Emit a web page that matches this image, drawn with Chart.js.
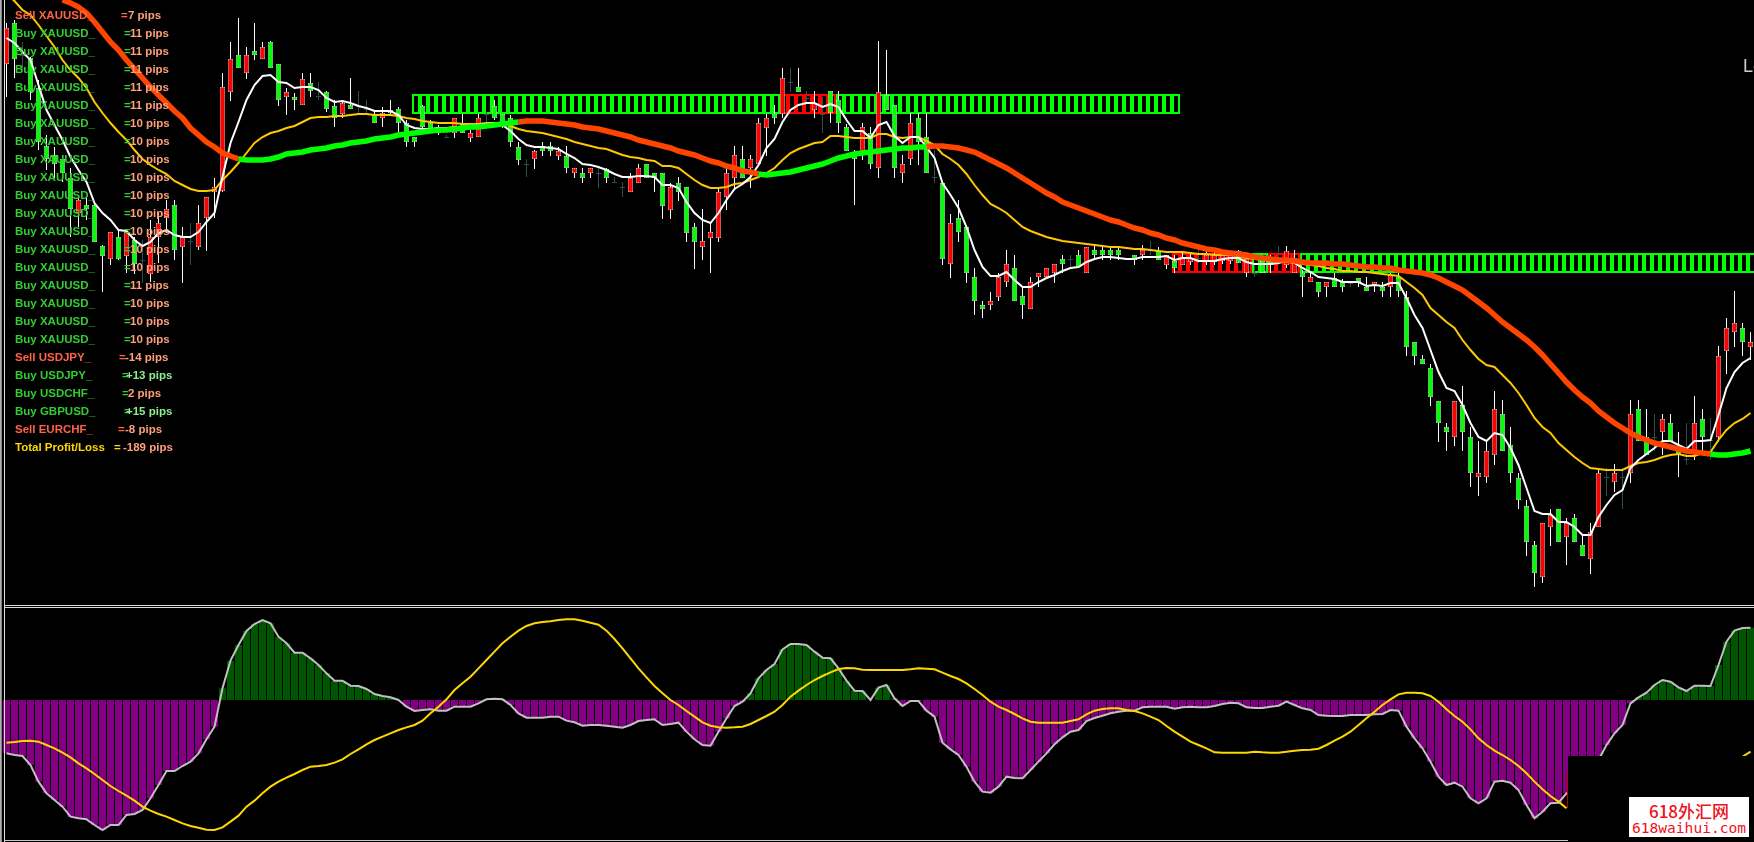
<!DOCTYPE html>
<html>
<head>
<meta charset="utf-8">
<script src="https://cdn.jsdelivr.net/npm/chart.js@4"></script>
<style>
html,body{margin:0;padding:0;background:#000;width:1754px;height:842px;overflow:hidden}
#wrap{position:absolute;left:0;top:0;width:1754px;height:842px;overflow:hidden;background:#000}
canvas{position:absolute;left:0;top:0}
.t{position:absolute;font:bold 11.5px "Liberation Sans",Arial,sans-serif;line-height:14px;white-space:pre}
.b{position:absolute}
</style>
</head>
<body>
<div id="wrap"><canvas id="c" width="1755" height="842"></canvas></div>
<script>
// ---- price pane: levels counted downward from the top of the pane ----
const opens = [64,23,55,58,88,146,155,159,178,213,
205,205,246,259,237,256,240,260,274,237,
218,205,247,241,247,218,192,191,92,55,
73,51,59,42,64,97,97,105,83,96,
92,106,114,105,106,109,115,118,110,109,
123,137,106,123,127,137,133,123,138,137,
114,106,114,118,147,164,159,146,146,156,
156,173,173,173,173,169,182,187,192,183,
164,173,173,210,183,187,227,247,238,238,
197,178,159,168,164,128,114,114,82,87,
98,110,114,91,100,127,155,152,133,168,
95,105,173,159,118,137,177,183,264,218,
227,277,305,305,297,282,268,296,309,277,
277,273,259,259,255,273,250,250,250,250,
259,255,255,250,251,265,261,265,262,258,
262,262,261,261,251,273,273,260,260,260,
265,273,273,282,282,287,278,282,283,278,
287,286,287,287,277,297,342,359,368,401,
427,437,405,437,477,477,455,414,445,478,
506,545,577,527,509,537,518,545,559,527,
477,482,477,473,409,437,437,432,423,451,
459,451,419,440,437,351,332,328,347];
const closes = [28,59,55,92,142,159,164,173,209,200,
209,242,256,232,259,232,264,260,237,223,
209,250,237,241,223,197,187,87,59,68,
55,55,47,68,100,92,100,79,91,96,
109,118,103,109,106,109,123,113,113,123,
142,142,127,129,133,137,118,133,133,118,
114,118,124,142,160,164,151,151,151,151,
168,168,178,168,173,178,182,187,178,168,
178,178,206,187,192,233,242,241,232,192,
173,155,178,159,123,118,118,78,82,92,
98,103,114,113,123,151,159,127,164,92,
110,168,164,123,142,173,177,259,223,232,
273,301,309,301,277,264,301,305,282,273,
268,264,264,259,267,247,255,255,255,255,
259,260,250,250,260,255,268,257,258,258,
255,255,255,255,263,259,273,273,265,260,
251,258,277,277,292,282,287,287,283,282,
291,282,291,275,291,347,356,364,397,423,
432,401,432,473,473,451,409,451,473,500,
542,573,523,515,542,523,542,556,532,473,
477,473,477,414,441,455,437,419,441,455,
459,423,437,440,356,328,323,342,342];
const highs = [23,20,42,57,80,135,147,157,168,197,
197,203,245,232,230,230,237,240,220,213,
200,200,227,223,205,197,178,73,42,18,
47,23,42,41,64,88,93,73,73,82,
91,100,100,78,91,100,110,107,100,107,
120,137,105,120,125,135,118,114,130,114,
112,100,114,115,142,159,150,142,142,147,
146,168,168,168,168,168,177,182,173,164,
164,173,173,183,177,187,223,209,223,187,
168,146,146,155,118,114,105,68,68,68,
91,91,97,91,91,124,150,123,127,41,
50,105,155,113,113,113,150,183,214,200,
227,268,301,292,273,250,255,287,277,273,
268,264,255,255,250,247,246,246,246,246,
258,255,245,241,247,255,255,253,253,250,
250,250,252,252,250,253,263,255,255,246,
246,250,270,273,282,282,273,279,282,278,
277,282,282,273,273,291,342,355,364,401,
423,401,386,427,441,441,391,400,427,473,
500,541,523,509,509,518,514,535,523,470,
468,464,468,400,400,409,414,414,414,432,
423,396,409,418,346,318,291,323,332];
const lows = [97,78,70,100,150,170,178,182,237,227,
220,242,292,265,260,273,274,283,282,263,
233,260,283,265,250,251,218,192,101,68,
79,60,59,68,106,115,110,105,97,100,
112,127,118,109,113,115,123,127,115,133,
147,147,130,130,135,138,138,133,142,137,
123,120,128,147,165,177,169,156,156,160,
173,178,183,178,188,183,183,197,192,183,
178,192,219,219,201,242,269,260,273,242,
210,190,178,188,164,156,124,118,92,92,
103,118,133,123,133,151,205,160,169,178,
110,178,183,165,165,173,183,265,278,242,
283,315,318,310,301,287,301,319,309,287,
277,283,273,268,267,273,260,260,260,260,
260,265,260,255,260,269,273,265,265,263,
265,265,264,264,263,277,277,273,273,265,
268,273,297,282,297,297,287,292,287,287,
291,292,297,297,297,356,365,364,406,442,
451,446,451,487,496,483,465,451,483,509,
556,587,583,546,542,565,542,556,574,527,
496,492,509,483,441,455,451,455,441,477,
465,460,455,460,442,374,347,356,360];
const fastMA = [38,43,52,60,85,110,125,140,157,170,182,203,213,220,230,231,240,246,242,233,230,235,237,237,232,222,213,177,143,122,100,85,76,75,82,83,88,87,87,90,98,102,101,103,106,108,111,111,111,115,125,128,
129,129,128,128,127,127,126,125,124,123,125,131,139,145,147,147,148,149,154,158,164,165,167,170,174,177,177,176,176,177,185,185,188,202,213,220,223,213,200,189,184,177,165,148,139,122,110,105,103,103,107,104,107,
120,131,131,138,125,122,136,143,137,137,147,158,183,195,208,227,250,267,276,276,272,280,287,287,282,278,275,271,268,267,262,259,257,257,258,259,259,257,257,257,256,260,
258,258,261,261,261,259,258,258,262,264,264,264,263,261,263,268,272,277,278,279,282,282,282,286,285,286,283,283,
298,315,328,350,372,388,391,405,423,437,441,433,435,448,465,488,511,514,514,522,522,527,535,535,517,505,495,490,468,460,454,448,441,441,445,449,441,441,440,415,388,372,363,358];
const slowMA = [-6,1,10,15,25,36,47,60,70,78,88,102,113,123,132,140,150,159,165,170,174,181,185,189,191,191,190,180,172,163,153,143,137,133,131,128,126,122,118,117,117,116,116,115,114,114,115,115,115,116,118,119,
121,122,123,123,123,124,124,124,123,123,124,126,129,131,132,133,135,137,139,142,144,146,148,149,152,155,157,158,160,161,166,166,168,174,180,185,188,188,187,184,183,180,177,173,168,160,153,149,146,143,142,136,136,
137,138,138,138,134,134,137,138,137,137,141,145,154,159,165,174,185,195,204,208,213,220,227,231,234,237,239,241,242,243,244,245,246,247,247,248,249,249,250,251,252,252,
252,253,254,254,255,255,255,256,258,259,260,261,261,262,263,264,265,266,268,269,271,271,272,272,273,274,275,276,
282,288,295,308,315,322,328,340,350,359,365,367,375,383,393,405,418,427,433,443,450,457,463,468,469,470,470,470,466,463,462,460,457,455,454,456,456,453,452,440,430,423,419,413];
const trendMA = [null,null,null,null,null,null,null,0,3,7,13,22,32,42,50,60,69,78,87,95,103,111,118,128,135,142,147,153,156,159,160,160,160,159,157,154,153,152,150,149,148,146,145,143,142,141,139,138,137,135,134,133,
132,131,130,130,129,128,127,127,126,125,124,123,122,121,121,121,122,123,124,125,127,128,129,131,133,135,137,140,142,144,146,148,151,153,155,158,161,163,166,168,171,172,174,175,174,173,172,170,168,166,164,161,158,
156,154,153,152,151,150,149,148,148,147,147,146,146,147,148,150,152,156,160,164,168,173,178,183,188,193,197,202,205,208,211,214,217,220,222,225,228,230,233,235,238,240,
243,245,247,249,250,252,253,254,255,257,258,259,260,260,261,262,263,263,263,264,264,265,266,267,267,268,268,270,
271,272,273,275,278,282,286,290,296,302,308,315,322,328,334,340,347,355,364,373,382,390,397,403,411,417,423,428,433,437,440,443,445,447,449,451,452,453,454,455,455,454,453,451];
const trendFlips = [29,64,94,115,213];
// ladders of cells: [first cell, last cell]
const greenLadderUpper = [0,95];
const redLadderUpper = [46,52];
const greenLadderLower = [95,168];
const redLadderLower = [[95,104],[107,110]];
const upperBand = [94,114];
const lowerBand = [253,273];
// ---- oscillator pane ----
const oscillator = [-160,-165,-168,-195,-245,-280,-300,-320,-350,-355,-358,-375,-390,-375,-375,-345,-342,-330,-295,-255,-213,-213,-198,-185,-160,-118,-80,35,118,165,207,228,240,230,190,170,142,142,125,105,80,58,58,43,42,33,18,12,8,0,
-20,-33,-30,-28,-32,-32,-20,-20,-20,-10,2,4,2,-15,-40,-53,-53,-53,-50,-50,-62,-67,-77,-75,-75,-77,-80,-83,-75,-63,-60,-58,-75,-72,-68,-95,-118,-135,-137,-95,-55,-18,-5,20,65,90,108,152,168,168,
165,145,127,125,95,58,28,27,0,37,45,5,-18,-3,-3,-32,-50,-128,-148,-165,-200,-245,-275,-278,-260,-230,-234,-235,-210,-185,-160,-133,-112,-95,-90,-63,-54,-47,-40,-35,-32,-32,-22,-20,-20,-20,-26,-22,-20,-22,
-22,-18,-12,-8,-10,-22,-24,-24,-20,-17,-5,-15,-25,-30,-45,-47,-48,-48,-45,-45,-45,-43,-42,-30,-32,-80,-115,-145,-185,-230,-255,-248,-260,-295,-310,-295,-245,-242,-248,-270,-315,-355,-335,-310,-308,-280,-270,-255,-225,-180,
-135,-100,-75,-10,8,22,45,60,55,38,27,43,43,42,105,175,208,216,217];
const signal = [-128,-126,-123,-122,-125,-135,-145,-158,-172,-190,-205,-222,-240,-258,-273,-287,-302,-320,-332,-342,-350,-360,-370,-378,-383,-389,-390,-382,-365,-347,-320,-302,-280,-260,-245,-233,-222,-210,-200,-198,-195,-188,-178,-162,-148,-133,-120,-110,-100,-90,-82,-75,-62,-40,-20,2,30,50,70,95,120,145,170,190,208,222,230,234,236,240,242,242,238,232,226,
208,183,155,125,95,68,42,20,0,-15,-33,-50,-67,-77,-82,-83,-82,-80,-72,-60,-48,-35,-15,10,28,45,60,72,83,93,96,95,91,90,90,90,90,90,92,95,94,92,82,72,63,50,33,15,-5,-20,-30,-42,-55,-65,-68,-68,-68,-68,-63,-58,-43,-32,-27,-25,-25,-30,-33,-40,-50,-60,-78,-95,-110,-125,-135,
-145,-157,-158,-158,-158,-158,-155,-157,-158,-158,-155,-152,-150,-149,-146,-135,-122,-110,-95,-75,-55,-35,-15,2,17,22,22,20,12,-5,-28,-48,-65,-88,-115,-135,-152,-165,-180,-198,-220,-245,-268,-288,-305,-325,
null,null,null,null,null,null,null,null,null,null,null,null,null,null,null,null,null,null,null,null,-195,-170,-155];
// ---- text ----
const rowNames = ["Sell XAUUSD_","Buy XAUUSD_","Buy XAUUSD_","Buy XAUUSD_","Buy XAUUSD_","Buy XAUUSD_","Buy XAUUSD_","Buy XAUUSD_","Buy XAUUSD_","Buy XAUUSD_","Buy XAUUSD_","Buy XAUUSD_","Buy XAUUSD_","Buy XAUUSD_","Buy XAUUSD_","Buy XAUUSD_","Buy XAUUSD_","Buy XAUUSD_","Buy XAUUSD_","Sell USDJPY_","Buy USDJPY_","Buy USDCHF_","Buy GBPUSD_","Sell EURCHF_","Total Profit/Loss"];
const rowValues = ["7 pips","11 pips","11 pips","11 pips","11 pips","11 pips","10 pips","10 pips","10 pips","10 pips","10 pips","10 pips","10 pips","10 pips","10 pips","11 pips","10 pips","10 pips","10 pips","-14 pips","+13 pips","2 pips","+15 pips","-8 pips","-189 pips"];
const eqLeft = [121,124,124,124,124,124,124,124,124,124,124,124,124,124,124,124,124,124,124,119,122,122,124,118,114];
const valLeft = [128,130,130,130,130,130,130,130,130,130,130,130,130,130,130,130,130,130,130,125,126,128,126,125,123];
const categories = opens.map((_, i) => String(i + 1));

const RED = '#ff0000', GREEN = '#00ff00', DOJI = '#2f4f4f';
const isDoji = i => opens[i] === closes[i];
const bodyColor = i => isDoji(i) ? DOJI : (closes[i] < opens[i] ? RED : GREEN);
const range = (a, b) => { const r = []; for (let k = a; k <= b; k++) r.push(k); return r; };
const cells = (span, band) => range(span[0], span[1]).map(k => ({ x: k, y: band }));
const ladder = (data, color, order) => ({
  type: 'bar', data, xAxisID: 'xCells', yAxisID: 'price', grouped: false, barThickness: 8,
  backgroundColor: 'rgba(0,0,0,0)', borderColor: color, borderWidth: 2, borderSkipped: false, inflateAmount: 0, order
});
const trendColor = ctx => {
  let n = 0; for (const f of trendFlips) if (ctx.p0DataIndex >= f) n++;
  return n % 2 ? GREEN : '#ff4500';
};

new Chart(document.getElementById('c'), {
  data: {
    labels: categories,
    datasets: [
      ladder(cells(greenLadderUpper, upperBand), GREEN, 21),
      ladder(cells(greenLadderLower, lowerBand), GREEN, 21),
      ladder(cells(redLadderUpper, upperBand), RED, 20),
      ladder(cells(redLadderLower[0], lowerBand), RED, 20),
      ladder(cells(redLadderLower[1], lowerBand), RED, 20),
      { type: 'bar', data: highs.map((h, i) => [h, lows[i]]), yAxisID: 'price', grouped: false, barThickness: 1, inflateAmount: 0,
        backgroundColor: categories.map((_, i) => isDoji(i) ? DOJI : '#ffffff'), order: 12 },
      { type: 'bar', data: opens.map((o, i) => isDoji(i) ? [o, o + 1] : [o, closes[i]]), yAxisID: 'price', grouped: false, barThickness: 5, inflateAmount: 0,
        backgroundColor: categories.map((_, i) => bodyColor(i)),
        borderColor: categories.map((_, i) => isDoji(i) ? DOJI : '#ffffff'),
        borderWidth: categories.map((_, i) => isDoji(i) ? 0 : 0.6), borderSkipped: false, order: 11 },
      { type: 'line', data: slowMA, yAxisID: 'price', borderColor: '#ffc800', borderWidth: 2, pointRadius: 0, tension: 0, order: 5 },
      { type: 'line', data: fastMA, yAxisID: 'price', borderColor: '#ffffff', borderWidth: 2, pointRadius: 0, tension: 0, order: 4 },
      { type: 'line', data: trendMA, yAxisID: 'price', borderWidth: 5.5, pointRadius: 0, tension: 0, borderColor: '#ff4500',
        borderCapStyle: 'butt', segment: { borderColor: trendColor }, order: 3 },
      { type: 'bar', data: oscillator, yAxisID: 'osc', grouped: false, barThickness: 7, inflateAmount: 0,
        backgroundColor: oscillator.map(v => v < 0 ? '#800080' : '#005500'), order: 9 },
      { type: 'line', data: oscillator, yAxisID: 'osc', borderColor: '#c0c0c0', borderWidth: 2, pointRadius: 0, tension: 0, order: 8 },
      { type: 'line', data: signal, yAxisID: 'osc', borderColor: '#ffd700', borderWidth: 2, pointRadius: 0, tension: 0, order: 7 }
    ]
  },
  options: {
    responsive: false, animation: false, devicePixelRatio: 1,
    layout: { padding: { left: 2.5, right: 0.5, top: 0, bottom: 0 } },
    plugins: { legend: { display: false }, tooltip: { enabled: false } },
    events: [],
    scales: {
      x: { type: 'category', offset: true, display: false },
      xCells: { type: 'linear', display: false, position: 'top', offset: false, min: -51.6875, max: 167.3125 },
      price: { type: 'linear', display: false, reverse: true, min: 0, max: 842 },
      osc: { type: 'linear', display: false, min: -426, max: 2100 }
    }
  }
});

const wrap = document.getElementById('wrap');
function box(l, t, w, h, c) {
  const d = document.createElement('div'); d.className = 'b';
  d.style.cssText = `left:${l}px;top:${t}px;width:${w}px;height:${h}px;background:${c}`;
  wrap.appendChild(d); return d;
}
function text(s, l, t, c, extra) {
  const d = document.createElement('div'); d.className = 't'; d.textContent = s;
  d.style.left = l + 'px'; d.style.top = t + 'px'; d.style.color = c;
  if (extra) d.style.cssText += extra;
  wrap.appendChild(d); return d;
}
// window frame
box(0, 0, 1, 842, '#b0b0b0');
box(1, 0, 1, 842, '#808080');
box(4, 0, 1, 842, '#e0e0e0');
box(4, 605, 1750, 1, '#d8d8d8');
box(4, 607, 1750, 1, '#d8d8d8');
box(4, 840, 1564, 1, '#c8c8c8');
// labels
rowNames.forEach((n, i) => {
  const y = 8 + 18 * i;
  const total = n.startsWith('Total');
  const nameCol = total ? '#ffd700' : (n.startsWith('Sell') ? '#ff6347' : '#32cd32');
  const valCol = rowValues[i].startsWith('+') ? '#90ee90' : '#ffa07a';
  text(n, 15, y, nameCol);
  text('=', eqLeft[i], y, nameCol);
  text(rowValues[i], valLeft[i], y, valCol);
});
text('Le', 1743, 56, '#cccccc', 'font:18px "Liberation Sans",Arial,sans-serif;line-height:20px');
// watermark block
box(1568, 756, 186, 86, '#000');
box(1567, 772, 1, 36, '#c00000');
box(1629, 797, 120, 40, '#fff');
text('618外汇网', 1629, 801, '#f01020', 'width:120px;text-align:center;font:500 17px "Noto Sans CJK SC",sans-serif;line-height:20px');
text('618waihui.com', 1629, 819, '#f01020', 'width:120px;text-align:center;font:14.6px "DejaVu Sans Mono",monospace;line-height:18px');
</script>
</body>
</html>
